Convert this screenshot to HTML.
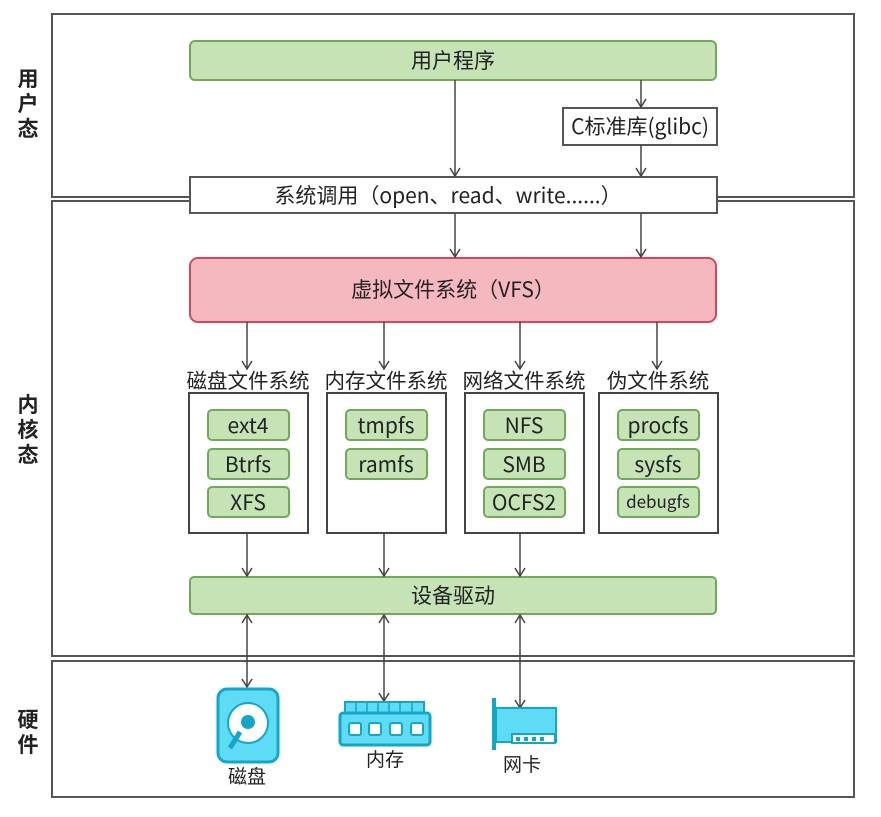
<!DOCTYPE html>
<html><head><meta charset="utf-8"><style>
html,body{margin:0;padding:0;background:#fff;}
svg text{font-family:"Noto Sans CJK SC","Liberation Sans",sans-serif;fill:#222;}
</style></head><body>
<svg width="881" height="812" viewBox="0 0 881 812" xmlns="http://www.w3.org/2000/svg">
<defs>
<marker id="a" markerWidth="14" markerHeight="14" refX="12" refY="7" orient="auto-start-reverse" markerUnits="userSpaceOnUse">
<path d="M4,2 L12,7 L4,12" fill="none" stroke="#444" stroke-width="1.5"/></marker>
</defs>
<g fill="none" stroke="#555" stroke-width="2">
<rect x="52" y="14" width="802" height="183"/>
<rect x="52" y="201" width="802" height="455"/>
<rect x="52" y="661" width="802" height="136"/>
</g>
<g font-size="21" font-weight="bold" text-anchor="middle">
<text x="28" y="86">用</text><text x="28" y="111">户</text><text x="28" y="136">态</text>
<text x="28" y="412">内</text><text x="28" y="437">核</text><text x="28" y="462">态</text>
<text x="28" y="727">硬</text><text x="28" y="752">件</text>
</g>
<rect x="190" y="41" width="526" height="39" rx="5" fill="#c6e3b6" stroke="#72a85a" stroke-width="2"/>
<text x="453" y="68" font-size="21" text-anchor="middle">用户程序</text>
<rect x="563" y="108" width="154" height="37" fill="#fff" stroke="#555" stroke-width="2"/>
<text x="640" y="134" font-size="21" text-anchor="middle">C标准库(glibc)</text>
<rect x="190" y="177" width="527" height="36" fill="#fff" stroke="#555" stroke-width="2"/>
<text x="448" y="203" font-size="21" text-anchor="middle">系统调用（open、read、write......）</text>
<rect x="190" y="258" width="526" height="64" rx="8" fill="#f5b8bf" stroke="#d4485c" stroke-width="2"/>
<text x="453" y="297" font-size="21" text-anchor="middle">虚拟文件系统（VFS）</text>
<g font-size="20.5" text-anchor="middle">
<text x="248" y="388">磁盘文件系统</text><text x="386" y="388">内存文件系统</text>
<text x="524" y="388">网络文件系统</text><text x="658" y="388">伪文件系统</text>
</g>
<g fill="#fff" stroke="#444" stroke-width="2">
<rect x="189" y="393" width="119" height="140"/><rect x="327" y="393" width="119" height="140"/>
<rect x="465" y="393" width="119" height="140"/><rect x="599" y="393" width="119" height="140"/>
</g>
<g fill="#c6e3b6" stroke="#72a85a" stroke-width="2">
<rect x="208" y="410" width="81" height="30" rx="4"/><rect x="208" y="449" width="81" height="30" rx="4"/><rect x="208" y="487" width="81" height="30" rx="4"/>
<rect x="346" y="410" width="81" height="30" rx="4"/><rect x="346" y="449" width="81" height="30" rx="4"/>
<rect x="484" y="410" width="81" height="30" rx="4"/><rect x="484" y="449" width="81" height="30" rx="4"/><rect x="484" y="487" width="81" height="30" rx="4"/>
<rect x="618" y="410" width="81" height="30" rx="4"/><rect x="618" y="449" width="81" height="30" rx="4"/><rect x="618" y="487" width="81" height="30" rx="4"/>
</g>
<g font-size="21" text-anchor="middle">
<text x="248" y="433">ext4</text><text x="248" y="472">Btrfs</text><text x="248" y="510">XFS</text>
<text x="386" y="433">tmpfs</text><text x="386" y="472">ramfs</text>
<text x="524" y="433">NFS</text><text x="524" y="472">SMB</text><text x="524" y="510">OCFS2</text>
<text x="658" y="433">procfs</text><text x="658" y="472">sysfs</text><text x="658" y="508" font-size="17">debugfs</text>
</g>
<rect x="190" y="577" width="526" height="37" rx="4" fill="#c6e3b6" stroke="#72a85a" stroke-width="2"/>
<text x="453" y="603" font-size="21" text-anchor="middle">设备驱动</text>
<g stroke="#444" stroke-width="1.5" fill="none">
<line x1="455" y1="80" x2="455" y2="176" marker-end="url(#a)"/>
<line x1="641" y1="80" x2="641" y2="107" marker-end="url(#a)"/>
<line x1="641" y1="145" x2="641" y2="176" marker-end="url(#a)"/>
<line x1="455" y1="213" x2="455" y2="257" marker-end="url(#a)"/>
<line x1="641" y1="213" x2="641" y2="257" marker-end="url(#a)"/>
<line x1="247" y1="322" x2="247" y2="369" marker-end="url(#a)"/>
<line x1="384" y1="322" x2="384" y2="369" marker-end="url(#a)"/>
<line x1="520" y1="322" x2="520" y2="369" marker-end="url(#a)"/>
<line x1="657" y1="322" x2="657" y2="369" marker-end="url(#a)"/>
<line x1="247" y1="533" x2="247" y2="576" marker-end="url(#a)"/>
<line x1="384" y1="533" x2="384" y2="576" marker-end="url(#a)"/>
<line x1="520" y1="533" x2="520" y2="576" marker-end="url(#a)"/>
<line x1="247" y1="615" x2="247" y2="687" marker-start="url(#a)" marker-end="url(#a)"/>
<line x1="384" y1="615" x2="384" y2="701" marker-start="url(#a)" marker-end="url(#a)"/>
<line x1="520" y1="615" x2="520" y2="708" marker-start="url(#a)" marker-end="url(#a)"/>
</g>
<g stroke="#555" stroke-width="1.5">
<line x1="53" y1="197" x2="190" y2="197"/><line x1="53" y1="201" x2="190" y2="201"/>
<line x1="717" y1="197" x2="853" y2="197"/><line x1="717" y1="201" x2="853" y2="201"/>
</g>
<rect x="218" y="689" width="60" height="73" rx="9" fill="#5fdcf5" stroke="#14a6c6" stroke-width="3"/>
<circle cx="248" cy="723" r="20" fill="#fff" stroke="#14a6c6" stroke-width="2"/>
<circle cx="248" cy="722" r="7" fill="#14a6c6"/>
<line x1="240" y1="732" x2="230" y2="748" stroke="#14a6c6" stroke-width="5"/>
<text x="247" y="783" font-size="19" text-anchor="middle">磁盘</text>
<rect x="345" y="702" width="79" height="12" fill="#5fdcf5" stroke="#14a6c6" stroke-width="2"/>
<g stroke="#14a6c6" stroke-width="1.5"><line x1="356" y1="702" x2="356" y2="714"/><line x1="367" y1="702" x2="367" y2="714"/><line x1="378" y1="702" x2="378" y2="714"/><line x1="389" y1="702" x2="389" y2="714"/><line x1="400" y1="702" x2="400" y2="714"/><line x1="412" y1="702" x2="412" y2="714"/></g>
<rect x="340" y="713" width="90" height="32" rx="3" fill="#5fdcf5" stroke="#14a6c6" stroke-width="3"/>
<g fill="#fff" stroke="#14a6c6" stroke-width="2"><rect x="349" y="723" width="12" height="12" rx="2"/><rect x="369" y="723" width="12" height="12" rx="2"/><rect x="390" y="723" width="12" height="12" rx="2"/><rect x="411" y="723" width="12" height="12" rx="2"/></g>
<text x="385" y="766" font-size="19" text-anchor="middle">内存</text>
<rect x="492" y="698" width="4" height="52" fill="#14a6c6"/>
<rect x="496" y="708" width="60" height="34" fill="#5fdcf5" stroke="#14a6c6" stroke-width="2"/>
<rect x="512" y="734" width="43" height="9" fill="#fff" stroke="#14a6c6" stroke-width="2"/>
<g fill="#14a6c6"><rect x="516" y="737" width="4" height="4"/><rect x="524" y="737" width="4" height="4"/><rect x="532" y="737" width="4" height="4"/><rect x="540" y="737" width="4" height="4"/></g>
<text x="522" y="771" font-size="19" text-anchor="middle">网卡</text>
</svg>
</body></html>
